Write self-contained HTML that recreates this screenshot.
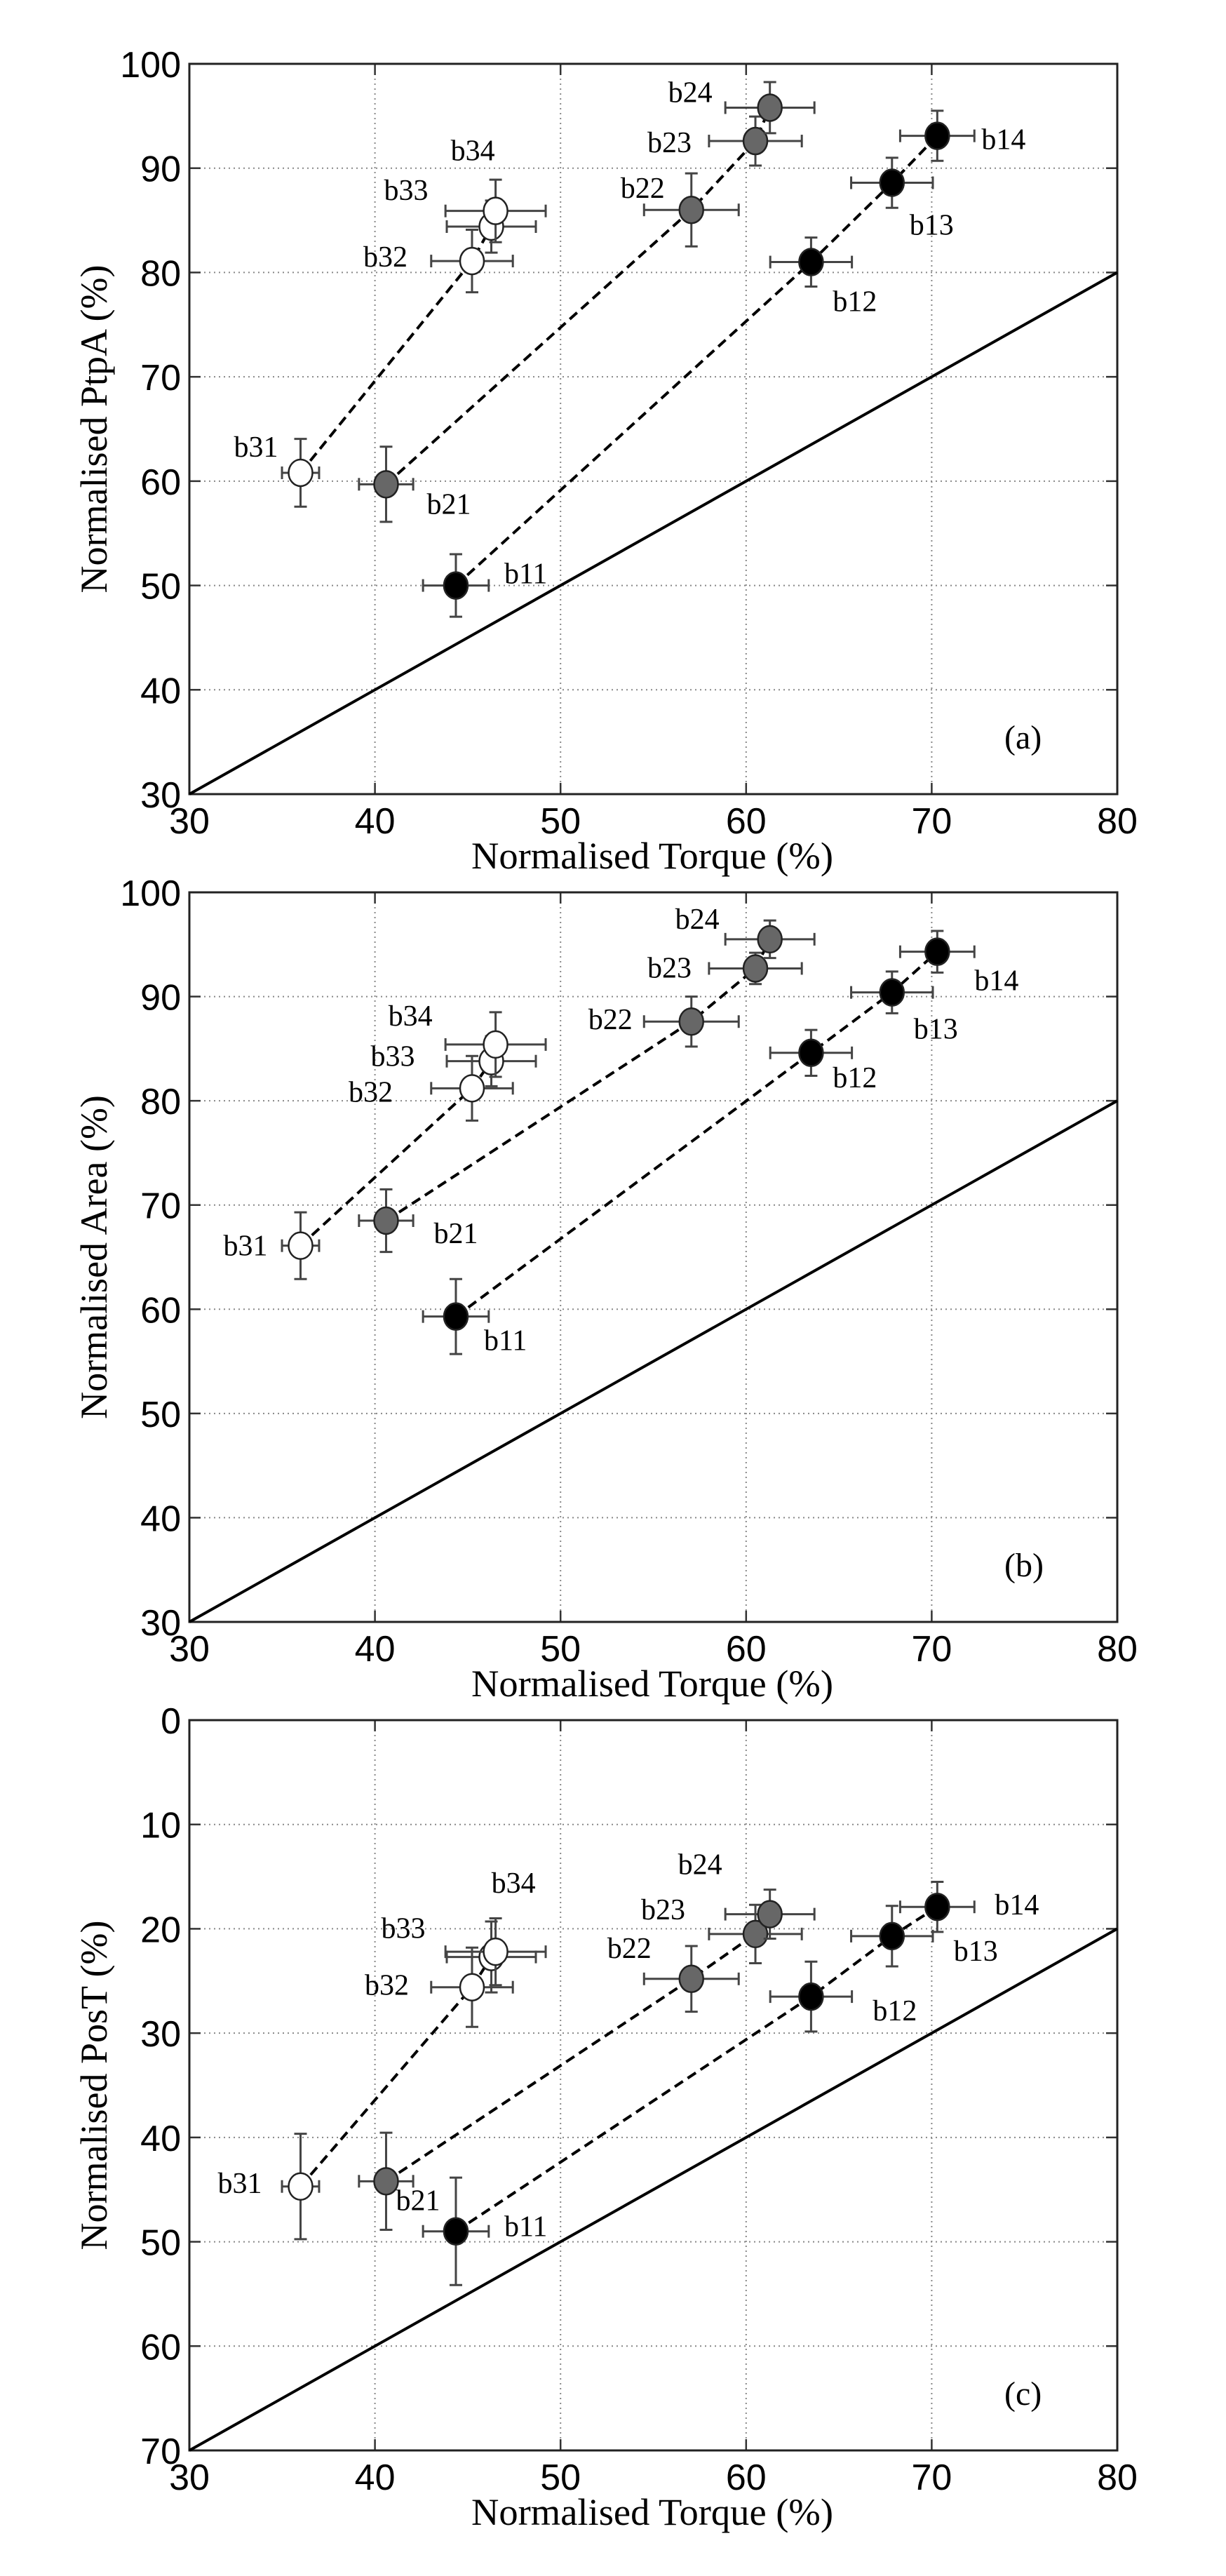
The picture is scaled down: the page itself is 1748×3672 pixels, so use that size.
<!DOCTYPE html>
<html><head><meta charset="utf-8"><style>
html,body{margin:0;padding:0;background:#fff;}
svg{display:block;}
</style></head><body>
<svg id="fig" width="1748" height="3672" viewBox="0 0 1748 3672" xmlns="http://www.w3.org/2000/svg"></svg>
<script>
// ---- data ----
const pointIds = ['b11','b12','b13','b14','b21','b22','b23','b24','b31','b32','b33','b34'];
const groupOf = [1,1,1,1,2,2,2,2,3,3,3,3];
const torque = [44.36,63.5,67.86,70.3, 40.6,57.05,60.5,61.28, 35.99,45.23,46.27,46.5];
const torqueErr = [1.77,2.2,2.2,2.0, 1.46,2.55,2.5,2.4, 1.0,2.2,2.4,2.7];
const ptpa = [50.0,81.0,88.6,93.1, 59.7,86.0,92.6,95.8, 60.8,81.1,84.4,85.9];
const ptpaErr = [3.0,2.35,2.4,2.4, 3.6,3.5,2.35,2.45, 3.25,3.0,2.5,3.0];
const area = [59.3,84.6,90.4,94.3, 68.5,87.6,92.7,95.5, 66.1,81.2,83.8,85.4];
const areaErr = [3.6,2.2,2.0,2.0, 3.0,2.4,1.5,1.8, 3.2,3.1,2.4,3.1];
const post = [49.0,26.5,20.7,17.9, 44.2,24.8,20.5,18.6, 44.7,25.6,22.7,22.2];
const postErr = [5.15,3.35,2.9,2.4, 4.65,3.15,2.8,2.35, 5.05,3.8,3.4,3.2];
const xTicks = [30,40,50,60,70,80];
const yTicksAB = [30,40,50,60,70,80,90,100];
const yTicksC = [0,10,20,30,40,50,60,70];

// ---- layout ----
const X0 = 270, X1 = 1593;
const panels = [
  {key:'a', top:91, bottom:1132, ymin:30, ymax:100, rev:false, vals:ptpa, errs:ptpaErr, title:'Normalised PtpA (%)', ticks:yTicksAB, diag:[[30,30],[80,80]],
   off:[[69,-3],[31,70],[25,74],[63,19],[58,42],[-101,-17],[-154,16],[-145,-8],[-95,-23],[-155,8],[-153,-38],[-64,-72]]},
  {key:'b', top:1272, bottom:2312, ymin:30, ymax:100, rev:false, vals:area, errs:areaErr, title:'Normalised Area (%)', ticks:yTicksAB, diag:[[30,30],[80,80]],
   off:[[40,48],[31,49],[31,66],[53,55],[68,32],[-147,11],[-154,13],[-135,-15],[-110,14],[-176,19],[-172,7],[-153,-27]]},
  {key:'c', top:2452, bottom:3493, ymin:0, ymax:70, rev:true, vals:post, errs:postErr, title:'Normalised PosT (%)', ticks:yTicksC, diag:[[30,70],[80,20]],
   off:[[69,7],[88,34],[88,35],[82,11],[14,41],[-120,-30],[-163,-21],[-131,-57],[-118,9],[-153,11],[-157,-27],[-6,-84]]}
];
const fills = {1:'#000', 2:'#676767', 3:'#fff'};
const NS = 'http://www.w3.org/2000/svg';
const svg = document.getElementById('fig');
function mk(tag, attrs, parent){
  const e = document.createElementNS(NS, tag);
  for (const k in attrs) e.setAttribute(k, attrs[k]);
  (parent||svg).appendChild(e);
  return e;
}
function xs(v){ return X0 + (v-30)/50*(X1-X0); }

panels.forEach(p => {
  const g = mk('g', {});
  
  
  const ys = v => p.rev ? p.top + (v-p.ymin)/(p.ymax-p.ymin)*(p.bottom-p.top)
                        : p.bottom - (v-p.ymin)/(p.ymax-p.ymin)*(p.bottom-p.top);
  // grid
  xTicks.slice(1,-1).forEach(t => {
    const l = mk('line', {x1:xs(t), x2:xs(t), y1:p.top, y2:p.bottom, stroke:'#888', 'stroke-width':2, 'stroke-dasharray':'2 5'}, g);
    
    
  });
  p.ticks.slice(1,-1).forEach(t => {
    const l = mk('line', {x1:X0, x2:X1, y1:ys(t), y2:ys(t), stroke:'#888', 'stroke-width':2, 'stroke-dasharray':'2 5'}, g);
    
    
  });
  // tick marks
  xTicks.forEach(t => {
    mk('line', {x1:xs(t), x2:xs(t), y1:p.bottom, y2:p.bottom-16, stroke:'#333', 'stroke-width':2.5}, g);
    mk('line', {x1:xs(t), x2:xs(t), y1:p.top, y2:p.top+16, stroke:'#333', 'stroke-width':2.5}, g);
    const tx = mk('text', {x:xs(t), y:p.bottom+56, 'text-anchor':'middle', 'font-family':'Liberation Sans, Arial, sans-serif', 'font-size':52, fill:'#000'}, g);
    tx.textContent = t;
    
    
  });
  p.ticks.forEach(t => {
    mk('line', {x1:X0, x2:X0+16, y1:ys(t), y2:ys(t), stroke:'#333', 'stroke-width':2.5}, g);
    mk('line', {x1:X1, x2:X1-16, y1:ys(t), y2:ys(t), stroke:'#333', 'stroke-width':2.5}, g);
    const tx = mk('text', {x:258, y:ys(t)+19, 'text-anchor':'end', 'font-family':'Liberation Sans, Arial, sans-serif', 'font-size':52, fill:'#000'}, g);
    tx.textContent = t;
    
    
  });
  // axes box
  const box = mk('rect', {x:X0, y:p.top, width:X1-X0, height:p.bottom-p.top, fill:'none', stroke:'#222', 'stroke-width':3}, g);
  
  
  // diagonal reference line
  const d = mk('line', {x1:xs(p.diag[0][0]), y1:ys(p.diag[0][1]), x2:xs(p.diag[1][0]), y2:ys(p.diag[1][1]), stroke:'#000', 'stroke-width':4}, g);
  
  
  // dashed group lines
  [1,2,3].forEach(gr => {
    const idx = pointIds.map((_,i)=>i).filter(i => groupOf[i]===gr);
    const pts = idx.map(i => xs(torque[i]).toFixed(1)+','+ys(p.vals[i]).toFixed(1)).join(' ');
    const pl = mk('polyline', {points:pts, fill:'none', stroke:'#000', 'stroke-width':4, 'stroke-dasharray':'14 8'}, g);
    
    
  });
  // error bars + markers + labels
  pointIds.forEach((id, i) => {
    const cx = xs(torque[i]), cy = ys(p.vals[i]);
    const ex = torqueErr[i]/50*(X1-X0);
    const ey = p.errs[i]/(p.ymax-p.ymin)*(p.bottom-p.top);
    const eb = mk('g', {stroke:'#444', 'stroke-width':3}, g);
    
    
    mk('line', {x1:cx, x2:cx, y1:cy-ey, y2:cy+ey}, eb);
    mk('line', {x1:cx-9, x2:cx+9, y1:cy-ey, y2:cy-ey}, eb);
    mk('line', {x1:cx-9, x2:cx+9, y1:cy+ey, y2:cy+ey}, eb);
    mk('line', {x1:cx-ex, x2:cx+ex, y1:cy, y2:cy}, eb);
    mk('line', {x1:cx-ex, x2:cx-ex, y1:cy-9, y2:cy+9}, eb);
    mk('line', {x1:cx+ex, x2:cx+ex, y1:cy-9, y2:cy+9}, eb);
    const c = mk('ellipse', {cx:cx, cy:cy, rx:17, ry:19, fill:fills[groupOf[i]], stroke:'#222', 'stroke-width':2.5}, g);
    
    
    const lb = mk('text', {x:cx+p.off[i][0], y:cy+p.off[i][1], 'font-family':'Liberation Serif, Times New Roman, serif', 'font-size':42, fill:'#000'}, g);
    lb.textContent = id;
    
    
  });
  // panel letter
  const pl = mk('text', {x:1432, y:p.bottom-65, 'font-family':'Liberation Serif, Times New Roman, serif', 'font-size':48, fill:'#000'}, g);
  pl.textContent = '(' + p.key + ')';
  
  
  // x title
  const xt = mk('text', {x:930, y:p.bottom+106, 'text-anchor':'middle', 'font-family':'Liberation Serif, Times New Roman, serif', 'font-size':54, fill:'#000', textLength:516, lengthAdjust:'spacingAndGlyphs'}, g);
  xt.textContent = 'Normalised Torque (%)';
  
  
  // y title
  const cyT = (p.top+p.bottom)/2;
  const yt = mk('text', {x:0, y:0, transform:'translate(152,'+cyT+') rotate(-90)', 'text-anchor':'middle', 'font-family':'Liberation Serif, Times New Roman, serif', 'font-size':54, fill:'#000'}, g);
  yt.textContent = p.title;
  
  
});
</script>
</body></html>
